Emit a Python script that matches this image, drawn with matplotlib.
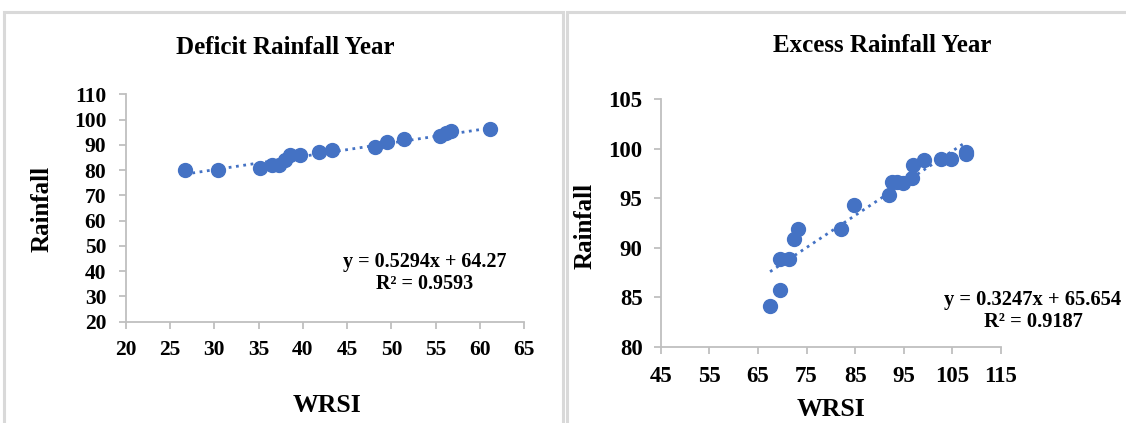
import matplotlib.pyplot as plt
import matplotlib.patches as patches
import numpy as np

plt.rcParams['font.family'] = ['Liberation Serif', 'DejaVu Serif']
plt.rcParams['font.weight'] = 'bold'

# Deficit rainfall year
deficit_wrsi = [26.7, 30.4, 35.2, 36.5, 37.3, 38.0, 38.6, 39.7, 41.8, 43.3,
                48.2, 49.5, 51.4, 55.5, 56.2, 56.7, 61.1]
deficit_rain = [80.1, 80.0, 81.0, 82.0, 82.0, 84.0, 86.0, 86.0, 87.0, 88.0,
                89.0, 91.0, 92.5, 93.6, 94.7, 95.6, 96.4]
deficit_fit = (0.5294, 64.27)

# Excess rainfall year
excess_wrsi = [67.5, 69.6, 69.6, 71.3, 72.5, 73.2, 82.1, 84.8, 92.0, 92.5,
               93.7, 94.8, 96.6, 96.9, 99.1, 102.7, 104.8, 107.7, 107.8]
excess_rain = [84.1, 85.7, 88.9, 88.9, 90.9, 91.9, 91.9, 94.3, 95.3, 96.6,
               96.6, 96.5, 97.0, 98.3, 98.8, 98.9, 98.9, 99.4, 99.7]
excess_fit = (0.3247, 65.654)

W, H = 1126, 423
blue = '#4472C4'
grey = '#BFBFBF'

fig = plt.figure(figsize=(W / 100, H / 100), dpi=100)

# panel frames
for x0, x1 in [(4, 563), (567, 1130)]:
    fig.patches.append(patches.Rectangle((x0 / W, -0.05), (x1 - x0) / W, (H - 12) / H + 0.05,
                                         transform=fig.transFigure, fill=False,
                                         edgecolor='#D9D9D9', linewidth=2.2))


def px_axes(l, r, t, b):
    return fig.add_axes([l / W, 1 - b / H, (r - l) / W, (b - t) / H])


def style(ax, size, ypad, xpad):
    for s in ['top', 'right']:
        ax.spines[s].set_visible(False)
    for s in ['left', 'bottom']:
        ax.spines[s].set_color(grey)
        ax.spines[s].set_linewidth(1.3)
    ax.tick_params(axis='both', colors=grey, length=5, width=1.3, labelcolor='black',
                   labelsize=size)
    ax.tick_params(axis='y', pad=ypad)
    ax.tick_params(axis='x', pad=xpad)
    for lab in ax.get_xticklabels() + ax.get_yticklabels():
        lab.set_fontweight('bold')


ax1 = px_axes(125.7, 524.3, 94.3, 321.7)
ax1.scatter(deficit_wrsi, deficit_rain, s=100, color=blue, zorder=3)
xs = np.array([min(deficit_wrsi), max(deficit_wrsi)])
ax1.plot(xs, deficit_fit[0] * xs + deficit_fit[1], linestyle=':', color=blue, linewidth=2)
ax1.set_xlim(20, 65)
ax1.set_ylim(20, 110)
ax1.set_xticks(np.arange(20, 66, 5))
ax1.set_yticks(np.arange(20, 111, 10))
style(ax1, 15.5, 9, 8)

ax2 = px_axes(660.7, 1001, 99, 346.7)
ax2.scatter(excess_wrsi, excess_rain, s=100, color=blue, zorder=3)
xs = np.array([min(excess_wrsi), max(excess_wrsi)])
ax2.plot(xs, excess_fit[0] * xs + excess_fit[1], linestyle=':', color=blue, linewidth=2)
ax2.set_xlim(45, 115)
ax2.set_ylim(80, 105)
ax2.set_xticks(np.arange(45, 116, 10))
ax2.set_yticks(np.arange(80, 106, 5))
style(ax2, 16.5, 8, 9)

# titles and axis labels
fig.text(285 / W, 1 - 47 / H, 'Deficit Rainfall Year', ha='center', va='center',
         fontsize=18, fontweight='bold')
fig.text(882 / W, 1 - 46 / H, 'Excess Rainfall Year', ha='center', va='center',
         fontsize=18, fontweight='bold')
fig.text(42 / W, 1 - 209 / H, 'Rainfall', rotation=90, ha='center', va='center',
         fontsize=18, fontweight='bold')
fig.text(585 / W, 1 - 226 / H, 'Rainfall', rotation=90, ha='center', va='center',
         fontsize=18, fontweight='bold')
fig.text(327 / W, 1 - 405 / H, 'WRSI', ha='center', va='center',
         fontsize=18.5, fontweight='bold')
fig.text(831 / W, 1 - 409 / H, 'WRSI', ha='center', va='center',
         fontsize=18.5, fontweight='bold')

# equations
fig.text(425 / W, 1 - 273 / H, 'y = 0.5294x + 64.27\nR² = 0.9593', ha='center', va='center',
         fontsize=14.5, fontweight='bold', linespacing=1.15)
fig.text(1033 / W, 1 - 311 / H, 'y = 0.3247x + 65.654\nR² = 0.9187', ha='center', va='center',
         fontsize=14.8, fontweight='bold', linespacing=1.15)

fig.savefig('out.png', dpi=100)
